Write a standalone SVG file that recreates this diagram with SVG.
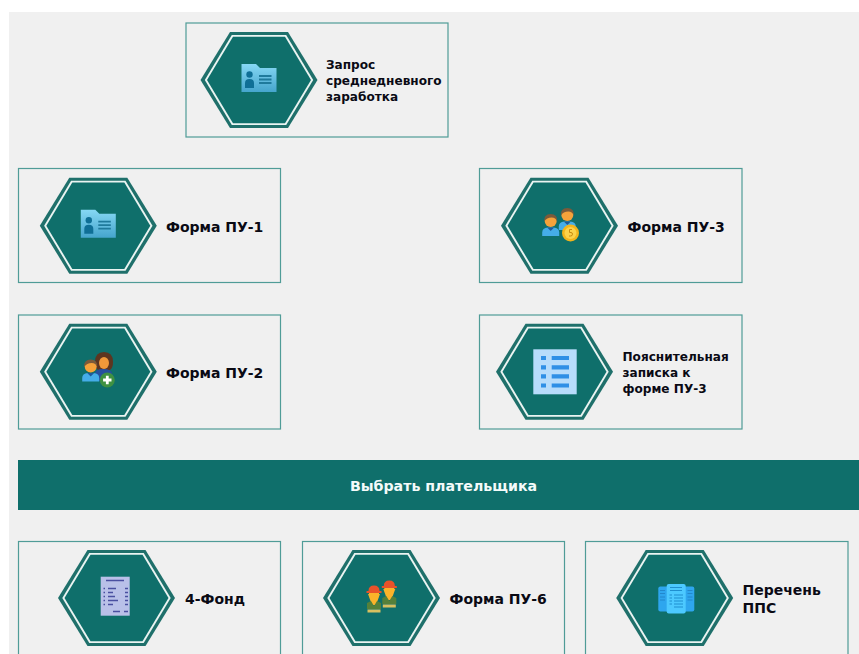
<svg xmlns="http://www.w3.org/2000/svg" width="859" height="654" viewBox="0 0 859 654">
<style>
.card{fill:#f0f0f0;stroke:#4f9c97;stroke-width:1.2}
.h1{fill:#1f706b}.h2{fill:#eaf4f2}.h3{fill:#0f6f6b}
text{font-family:"DejaVu Sans","Liberation Sans",sans-serif;font-weight:700;fill:#0a0a14}
.big{font-size:14px}.small{font-size:12.1px}
.bar{fill:#0f6f6b}
</style>
<defs>
<linearGradient id="fg" x1="0" y1="0" x2="0" y2="1"><stop offset="0" stop-color="#86d8f4"/><stop offset="1" stop-color="#45a5cd"/></linearGradient>
<g id="hex">
<polygon class="h1" points="-58.500,0 -29,-48 29,-48 58.500,0 29,48 -29,48"/>
<polygon class="h2" points="-54.200,0 -27.200,-45 27.200,-45 54.200,0 27.200,45 -27.200,45"/>
<polygon class="h3" points="-52,0 -26,-43.300 26,-43.300 52,0 26,43.300 -26,43.300"/>
</g>
<g id="folder">
<path d="M-17.500,-16H-3L1,-12H17.500V12H-17.500Z" fill="url(#fg)"/>
<circle cx="-9.500" cy="-5.500" r="3.200" fill="#0f6f96"/>
<path d="M-14,8V3Q-14,-1-9.500,-1Q-5,-1-5,3V8Z" fill="#0f6f96"/>
<path d="M0,-4H12.500M0,-0.500H12.500M0,3H12.500" stroke="#1f7a9c" stroke-width="1.800" fill="none"/>
</g>
<g id="man">
<path d="M-8.500,9V5.500Q-8.500,1-3,0.500H3Q8.500,1 8.500,5.500V9Z" fill="#45ade8"/>
<path d="M-3.500,0.500L0,4L3.500,0.500Z" fill="#1f5a9a"/>
<circle cx="0" cy="-6" r="6" fill="#f5a23a"/>
<path d="M-6.500,-5.500Q-7,-13 0,-13Q7,-13 6.500,-5.500Q5,-9.500 1,-9.500Q-4,-9.500-6.500,-5.500Z" fill="#7b5a3a"/>
</g>
<g id="worker">
<path d="M-6,0H6L2,11H-2Z" fill="#fbb32a"/>
<path d="M-7,9L-3,7L0,12L3,7L7,9V15H-7Z" fill="#55803a"/>
<path d="M-6.500,15.500H6.500V18.500H-6.500Z" fill="#d8c060"/>
<path d="M-5,-2Q-5,-8 0,-8Q5,-8 5,-2V1Q2,3 0,3Q-2,3-5,1Z" fill="#fbb32a"/>
<path d="M-5.500,-3Q-5.500,-8.500 0,-8.500Q5.500,-8.500 5.500,-3H7.500V-1H-7.500V-3Z" fill="#e8522a"/>
</g>
</defs>
<rect width="859" height="654" fill="#ffffff"/>
<rect x="9" y="12" width="850" height="642" fill="#f0f0f0"/>

<g id="node-zapros">
<rect class="card" x="186" y="23" width="262" height="114"/>
<use href="#hex" x="259" y="80"/>
<use href="#folder" x="259" y="80"/>
<text class="small" x="326" y="68.500">Запрос</text>
<text class="small" x="326" y="85">среднедневного</text>
<text class="small" x="326" y="101">заработка</text>
</g>

<g id="node-pu1">
<rect class="card" x="18.500" y="168.500" width="262" height="114"/>
<use href="#hex" x="98.300" y="225.700"/>
<use href="#folder" x="98.300" y="225.700"/>
<text class="big" x="166" y="231.500">Форма ПУ-1</text>
</g>

<g id="node-pu3">
<rect class="card" x="479.500" y="168.500" width="262.500" height="114"/>
<use href="#hex" x="559.500" y="225.700"/>
<g>
<use href="#man" x="567.300" y="221"/>
<use href="#man" x="550.700" y="227"/>
<circle cx="570.500" cy="233" r="8.500" fill="#f2b51c"/>
<circle cx="570.500" cy="233" r="6" fill="#fbd24a"/>
<path d="M572,229.500H569.500V232.500H571Q572.500,232.500 572.500,234.200Q572.500,236 570.500,236H569" stroke="#c88a10" stroke-width="1" fill="none"/>
</g>
<text class="big" x="627.500" y="231.500">Форма ПУ-3</text>
</g>

<g id="node-pu2">
<rect class="card" x="18.500" y="315" width="262" height="114"/>
<use href="#hex" x="98.300" y="371.700"/>
<g>
<path d="M95,362Q95,352 104,352Q113,352 113,362Q113,368 110,370H98Q95,368 95,362Z" fill="#5d3520"/>
<path d="M95,381V374Q95,369 103,369Q112,369 112,374V381Z" fill="#27509e"/>
<ellipse cx="104" cy="363" rx="5" ry="6" fill="#f0983a"/>
<use href="#man" x="90.700" y="372.500"/>
<circle cx="107.300" cy="380" r="7.500" fill="#3f9142"/>
<path d="M107.300,375.800V384.200M103.100,380H111.500" stroke="#fff" stroke-width="2.800"/>
</g>
<text class="big" x="166" y="377.500">Форма ПУ-2</text>
</g>

<g id="node-note">
<rect class="card" x="479.500" y="315" width="262.500" height="114"/>
<use href="#hex" x="554.500" y="371.700"/>
<rect x="533.300" y="349.300" width="43.400" height="45" fill="#b7dcfb"/>
<path d="M541,358H546M551.700,358H569M541,367.300H546M551.700,367.300H569M541,376.300H546M551.700,376.300H569M541,385.500H546M551.700,385.500H569" stroke="#2f8fe6" stroke-width="4.200" fill="none"/>
<text class="small" x="622.500" y="360.500">Пояснительная</text>
<text class="small" x="622.500" y="377">записка к</text>
<text class="small" x="622.500" y="393">форме ПУ-3</text>
</g>

<g id="button-payer">
<rect class="bar" x="18" y="460" width="841" height="50"/>
<text x="443.500" y="490.500" text-anchor="middle" style="fill:#f4fbfa;font-size:14.200px">Выбрать плательщика</text>
</g>

<g id="node-4fond">
<rect class="card" x="18.500" y="541.500" width="262" height="130"/>
<use href="#hex" x="116.500" y="598"/>
<rect x="100.700" y="576.700" width="29" height="39" fill="#b9c0e8"/>
<path d="M106,580.500H124" stroke="#4a4fa0" stroke-width="1.500"/>
<path d="M103.500,588.500H105M108,588.500H116M125,588.500H128M103.500,592.500H105M108,592.500H113M125,592.500H128M103.500,596.500H105M108,596.500H115M125,596.500H128M103.500,600.500H105M108,600.500H118M125,600.500H128M103.500,604.500H105M108,604.500H113M125,604.500H128M113,611.500H120M124,611.500H128" stroke="#4a4fa0" stroke-width="1.300" fill="none"/>
<text class="big" x="185" y="603.500">4-Фонд</text>
</g>

<g id="node-pu6">
<rect class="card" x="302.500" y="541.500" width="262" height="130"/>
<use href="#hex" x="381.500" y="598"/>
<use href="#worker" x="389.300" y="589"/>
<use href="#worker" x="374" y="594"/>
<text class="big" x="449.500" y="603.500">Форма ПУ-6</text>
</g>

<g id="node-pps">
<rect class="card" x="585.500" y="541.500" width="262.500" height="130"/>
<use href="#hex" x="674.700" y="598"/>
<rect x="658.300" y="586.500" width="36" height="25" rx="2" fill="#2ea6ee"/>
<rect x="666.700" y="584" width="19" height="29.500" rx="2" fill="#4cc9ff"/>
<path d="M670,587.500H682M670,590.500H682M674,595H683M674,598H683M674,601H683M674,604H683M674,607H683M669.500,595H672M669.500,598H672M669.500,601H672M669.500,604H672" stroke="#1f8fd0" stroke-width="1" fill="none"/>
<path d="M660,590.500H665M660,593.500H665M660,597H665M660,600H665M687.500,590.500H692.500M687.500,593.500H692.500M687.500,597H692.500M687.500,600H692.500" stroke="#1f80c4" stroke-width="0.800" fill="none"/>
<text class="big" x="742.500" y="595">Перечень</text>
<text class="big" x="742.500" y="613">ППС</text>
</g>
</svg>
